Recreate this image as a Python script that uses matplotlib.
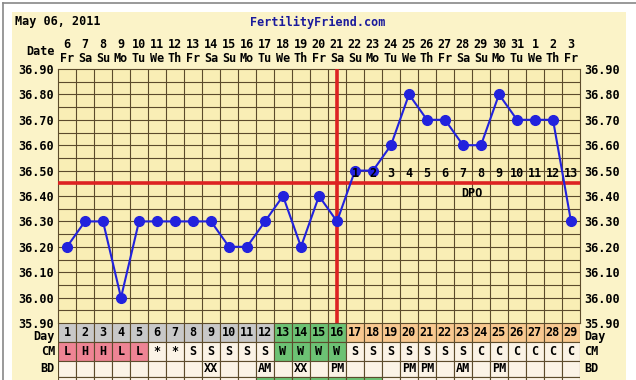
import matplotlib.pyplot as plt
from matplotlib.patches import Rectangle
import numpy as np

# chart data
cycle_days = list(range(1, 30))
dates = [6, 7, 8, 9, 10, 11, 12, 13, 14, 15, 16, 17, 18, 19, 20, 21, 22, 23, 24, 25,
         26, 27, 28, 29, 30, 31, 1, 2, 3]
weekdays = ['Fr', 'Sa', 'Su', 'Mo', 'Tu', 'We', 'Th'] * 4 + ['Fr']
temps = [36.20, 36.30, 36.30, 36.00, 36.30, 36.30, 36.30, 36.30, 36.30, 36.20,
         36.20, 36.30, 36.40, 36.20, 36.40, 36.30, 36.50, 36.50, 36.60, 36.80,
         36.70, 36.70, 36.60, 36.60, 36.80, 36.70, 36.70, 36.70, 36.30]
cm = ['L', 'H', 'H', 'L', 'L', '*', '*', 'S', 'S', 'S', 'S', 'S', 'W', 'W', 'W', 'W',
      'S', 'S', 'S', 'S', 'S', 'S', 'S', 'C', 'C', 'C', 'C', 'C', 'C']
bd = ['', '', '', '', '', '', '', '', 'XX', '', '', 'AM', '', 'XX', '', 'PM',
      '', '', '', 'PM', 'PM', '', 'AM', '', 'PM', '', '', '', '']
coverline = 36.45
ovulation_day = 16
dpo_start = 17
fertile_days = range(12, 19)

W, H = 636, 380
GRID = '#5c4b2c'
CREAM = '#fbf3c8'
PLOT_BG = '#f9eeb5'
BLUE = '#2222dd'
RED = '#dd2222'
mono = dict(family='DejaVu Sans Mono', weight='bold', size=8.5)

fig = plt.figure(figsize=(W / 100, H / 100), dpi=100)
fig.patch.set_facecolor('white')

# background panel with frame
bg = fig.add_axes([0, 0, 1, 1], zorder=-5)
bg.set_xlim(0, W)
bg.set_ylim(H, 0)
bg.axis('off')
bg.add_patch(Rectangle((12, 12), 614, H, facecolor=CREAM, edgecolor='none'))
bg.plot([3, W], [3, 3], color='#888888', lw=1.2)
bg.plot([3, 3], [3, H], color='#888888', lw=1.2)

fig.text(15 / W, 1 - 22 / H, 'May 06, 2011', ha='left', va='center', **mono)
fig.text(318 / W, 1 - 22 / H, 'FertilityFriend.com', ha='center', va='center',
         color='#1a1a9c', **mono)

# temperature grid
ax = fig.add_axes([58 / W, (H - 323) / H, 522 / W, 254 / H])
ax.set_facecolor(PLOT_BG)
ax.set_xlim(0.5, 29.5)
ax.set_ylim(35.9, 36.9)
ax.set_xticks([])
yt = np.round(np.arange(35.9, 36.91, 0.1), 2)
ax.set_yticks(yt)
ax.set_yticklabels(['%.2f' % v for v in yt])
ax.tick_params(length=0, labelleft=True, labelright=True, pad=3)
for lab in ax.get_yticklabels():
    lab.set_fontfamily('DejaVu Sans Mono')
    lab.set_fontweight('bold')
    lab.set_fontsize(8.5)
for x in np.arange(1.5, 29.5, 1):
    ax.axvline(x, color=GRID, lw=0.8, zorder=1)
for y in np.arange(35.95, 36.9, 0.05):
    ax.axhline(y, color=GRID, lw=0.8, zorder=1)
for s in ax.spines.values():
    s.set_color(GRID)
    s.set_linewidth(0.8)

ax.axhline(coverline, color=RED, lw=2.6, zorder=3)
ax.axvline(ovulation_day, color=RED, lw=2.6, zorder=3)
ax.plot(cycle_days, temps, color=BLUE, lw=1.5, marker='o', ms=7, zorder=4)

for i, d in enumerate(cycle_days[dpo_start - 1:]):
    ax.text(d, coverline + 0.012, str(i + 1), ha='center', va='bottom', zorder=5, **mono)
ax.text(23.5, coverline - 0.015, 'DPO', ha='center', va='top', **mono)

for d, dt, wd in zip(cycle_days, dates, weekdays):
    ax.text(d, 36.9 + 24 / 254, str(dt), ha='center', va='center', **mono)
    ax.text(d, 36.9 + 11 / 254, wd, ha='center', va='center', **mono)
ax.text(0.5 - 3 / 18, 36.9 + 18 / 254, 'Date', ha='right', va='center', **mono)

# table rows under the chart (units: pixels downward)
tb = fig.add_axes([58 / W, 0, 522 / W, 57 / H])
tb.set_xlim(0.5, 29.5)
tb.set_ylim(57, 0)
tb.axis('off')
rows = [(0, 19), (19, 38), (38, 54), (54, 70)]


def day_color(d):
    if d <= 12:
        return '#c8c8c8'
    if d <= 16:
        return '#6cc274'
    return '#f8c890'


def cm_color(v):
    if v in ('L', 'H'):
        return '#ee8494'
    if v == 'W':
        return '#6cc274'
    return '#fbf3e6'


for d in cycle_days:
    x0 = d - 0.5
    y0, y1 = rows[0]
    tb.add_patch(Rectangle((x0, y0), 1, y1 - y0, facecolor=day_color(d), edgecolor=GRID, lw=0.8))
    tb.text(d, (y0 + y1) / 2, str(d), ha='center', va='center', **mono)
    y0, y1 = rows[1]
    v = cm[d - 1]
    tb.add_patch(Rectangle((x0, y0), 1, y1 - y0, facecolor=cm_color(v), edgecolor=GRID, lw=0.8))
    tb.text(d, (y0 + y1) / 2, v, ha='center', va='center', **mono)
    y0, y1 = rows[2]
    tb.add_patch(Rectangle((x0, y0), 1, y1 - y0, facecolor='#fbf3e6', edgecolor=GRID, lw=0.8))
    tb.text(d, (y0 + y1) / 2, bd[d - 1], ha='center', va='center', **mono)
    y0, y1 = rows[3]
    fc = '#6cc274' if d in fertile_days else '#fbf3e6'
    tb.add_patch(Rectangle((x0, y0), 1, y1 - y0, facecolor=fc, edgecolor=GRID, lw=0.8))

for (y0, y1), name in zip(rows[:3], ['Day', 'CM', 'BD']):
    yc = (y0 + y1) / 2 + (4 if name == 'Day' else 0)
    tb.text(0.5 - 3 / 18, yc, name, ha='right', va='center', **mono)
    tb.text(29.5 + 4 / 18, yc, name, ha='left', va='center', **mono)

fig.savefig('out.png', dpi=100)
